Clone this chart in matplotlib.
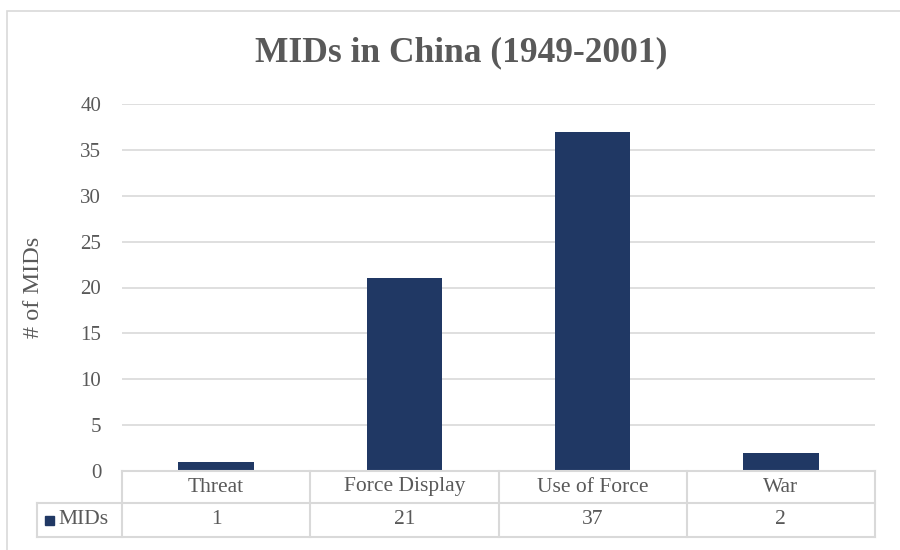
import matplotlib
matplotlib.use("Agg")
import matplotlib.pyplot as plt
from matplotlib.patches import Rectangle

# Chart data
categories = ["Threat", "Force Display", "Use of Force", "War"]
mids = [1, 21, 37, 2]
series_name = "MIDs"
y_ticks = [0, 5, 10, 15, 20, 25, 30, 35, 40]

bar_color = "#203864"
text_color = "#595959"
grid_color = "#D9D9D9"

plt.rcParams["font.family"] = ["Liberation Serif", "DejaVu Serif"]

fig = plt.figure(figsize=(9, 5.5), dpi=100)
W, H = 900, 550

# outer chart border (cropped on the right/bottom like the reference)
fig.patches.append(Rectangle((7 / W, -0.1), 1.2, 1 - 11 / H + 0.1, transform=fig.transFigure,
                             fill=False, edgecolor=grid_color, linewidth=1.2))

ax = fig.add_axes([122 / W, 1 - 471 / H, 753 / W, 367 / H])
x = list(range(len(categories)))
ax.bar(x, mids, width=0.4, color=bar_color, zorder=3)
ax.set_xlim(-0.5, len(categories) - 0.5)
ax.set_ylim(0, 40)
ax.set_yticks(y_ticks)
ax.yaxis.grid(True, color=grid_color, linewidth=1.2, zorder=0)
ax.tick_params(axis="y", length=0, pad=15, labelsize=15, labelcolor=text_color)
ax.set_xticks([])
for s in ["top", "right", "left", "bottom"]:
  ax.spines[s].set_visible(False)

ax.set_ylabel("# of MIDs", fontsize=17.5, color=text_color, labelpad=26)
fig.text(461 / W, 1 - 53 / H, "MIDs in China (1949-2001)", ha="center", va="center",
         fontsize=25.5, fontweight="bold", color=text_color)

# data table under the axis
trans = ax.get_xaxis_transform()
row1 = -32 / 367
row2 = -66 / 367
left_col = -85 / 753
edges = [i - 0.5 for i in range(len(categories) + 1)]
lkw = dict(color=grid_color, linewidth=1.5, clip_on=False, zorder=4)

ax.plot([edges[0], edges[-1]], [0, 0], transform=trans, **lkw)
for e in edges:
  ax.plot([e, e], [0, row2], transform=trans, **lkw)
ax.plot([left_col, 1], [row1, row1], transform=ax.transAxes, **lkw)
ax.plot([left_col, 1], [row2, row2], transform=ax.transAxes, **lkw)
ax.plot([left_col, left_col], [row1, row2], transform=ax.transAxes, **lkw)

for i, (cat, val) in enumerate(zip(categories, mids)):
  ax.text(i, row1 / 2, cat, transform=trans, ha="center", va="center",
          fontsize=15.5, color=text_color)
  ax.text(i, (row1 + row2) / 2, str(val), transform=trans, ha="center", va="center",
          fontsize=15.5, color=text_color)

# legend key in the table
ax.add_patch(Rectangle((-77 / 753, (row1 + row2) / 2 - 4.5 / 367), 9 / 753, 9 / 367,
                       transform=ax.transAxes, color=bar_color, clip_on=False))
ax.text(-64 / 753, (row1 + row2) / 2, series_name, transform=ax.transAxes,
        ha="left", va="center", fontsize=15.5, color=text_color)

fig.savefig("out.png", dpi=100)
